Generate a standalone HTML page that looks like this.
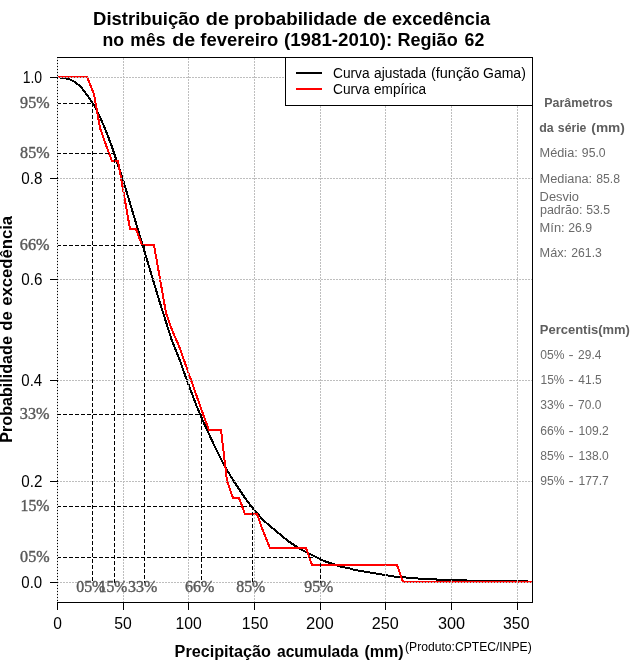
<!DOCTYPE html>
<html><head><meta charset="utf-8"><title>Distribuição de probabilidade de excedência</title>
<style>
html,body{margin:0;padding:0;background:#fff;}
body{width:640px;height:660px;overflow:hidden;font-family:"Liberation Sans",sans-serif;}
svg{display:block;will-change:transform;}
text{font-family:"Liberation Sans",sans-serif;}
.se{font-family:"Liberation Serif",serif;stroke:#595959;stroke-width:0.4px;}
.b{font-weight:bold;}
</style></head><body>
<svg width="640" height="660" viewBox="0 0 640 660">
<rect width="640" height="660" fill="#fff"/>

<g shape-rendering="crispEdges" fill="none" stroke-linejoin="miter">
<polyline points="57,77 63,78 69,79 75,82 81,87 87,95 94,105 100,117 106,131 112,147 118,165 124,183 130,203 136,223 142,243 148,263 154,283 160,303 166,322 172,341 179,358 185,375 191,391 197,407 203,421 209,434 215,447 221,459 227,470 233,480 239,489 245,498 251,506 257,513 263,520 270,526 276,531 282,536 288,541 294,545 300,549 306,552 312,555 318,558 324,561 330,563 336,565 342,567 348,568 355,570 361,571 367,572 373,573 379,574 385,575 391,576 397,577 403,577 409,578 415,578 421,579 433,579 440,580 464,580 470,581 524,581 532,582" stroke="#000" stroke-width="2"/>
<polyline points="57,77 87,77 94,94 100,128 106,145 112,161 118,161 124,195 130,229 136,229 142,245 154,245 160,279 166,313 172,330 179,346 185,363 191,380 197,397 203,414 209,430 221,430 227,481 233,498 239,498 245,514 257,514 263,531 270,548 306,548 312,565 397,565 403,582 532,582" stroke="#ff0000" stroke-width="2"/>
<line x1="123.5" y1="603" x2="123.5" y2="57" stroke="#BEBEBE" stroke-dasharray="2 1"/>
<line x1="188.5" y1="603" x2="188.5" y2="57" stroke="#BEBEBE" stroke-dasharray="2 1"/>
<line x1="254.5" y1="603" x2="254.5" y2="57" stroke="#BEBEBE" stroke-dasharray="2 1"/>
<line x1="320.5" y1="603" x2="320.5" y2="57" stroke="#BEBEBE" stroke-dasharray="2 1"/>
<line x1="385.5" y1="603" x2="385.5" y2="57" stroke="#BEBEBE" stroke-dasharray="2 1"/>
<line x1="451.5" y1="603" x2="451.5" y2="57" stroke="#BEBEBE" stroke-dasharray="2 1"/>
<line x1="517.5" y1="603" x2="517.5" y2="57" stroke="#BEBEBE" stroke-dasharray="2 1"/>
<line x1="57" y1="582.5" x2="532" y2="582.5" stroke="#BEBEBE" stroke-dasharray="2 1"/>
<line x1="57" y1="481.5" x2="532" y2="481.5" stroke="#BEBEBE" stroke-dasharray="2 1"/>
<line x1="57" y1="380.5" x2="532" y2="380.5" stroke="#BEBEBE" stroke-dasharray="2 1"/>
<line x1="57" y1="279.5" x2="532" y2="279.5" stroke="#BEBEBE" stroke-dasharray="2 1"/>
<line x1="57" y1="178.5" x2="532" y2="178.5" stroke="#BEBEBE" stroke-dasharray="2 1"/>
<line x1="57" y1="77.5" x2="532" y2="77.5" stroke="#BEBEBE" stroke-dasharray="2 1"/>
<line x1="57" y1="103.5" x2="92.5" y2="103.5" stroke="#000" stroke-dasharray="4 2"/>
<line x1="92.5" y1="103" x2="92.5" y2="583" stroke="#000" stroke-dasharray="4 2"/>
<line x1="57" y1="153.5" x2="114.5" y2="153.5" stroke="#000" stroke-dasharray="4 2"/>
<line x1="114.5" y1="153" x2="114.5" y2="583" stroke="#000" stroke-dasharray="4 2"/>
<line x1="57" y1="245.5" x2="144.5" y2="245.5" stroke="#000" stroke-dasharray="4 2"/>
<line x1="144.5" y1="245" x2="144.5" y2="583" stroke="#000" stroke-dasharray="4 2"/>
<line x1="57" y1="414.5" x2="201.5" y2="414.5" stroke="#000" stroke-dasharray="4 2"/>
<line x1="201.5" y1="414" x2="201.5" y2="583" stroke="#000" stroke-dasharray="4 2"/>
<line x1="57" y1="506.5" x2="252.5" y2="506.5" stroke="#000" stroke-dasharray="4 2"/>
<line x1="252.5" y1="506" x2="252.5" y2="583" stroke="#000" stroke-dasharray="4 2"/>
<line x1="57" y1="557.5" x2="320.5" y2="557.5" stroke="#000" stroke-dasharray="4 2"/>
<line x1="320.5" y1="557" x2="320.5" y2="583" stroke="#000" stroke-dasharray="4 2"/>
<line x1="57" y1="57.5" x2="533" y2="57.5" stroke="#000"/>
<line x1="57" y1="602.5" x2="533" y2="602.5" stroke="#000"/>
<line x1="532.5" y1="57" x2="532.5" y2="603" stroke="#000"/>
<line x1="57.5" y1="57" x2="57.5" y2="603" stroke="#000"/>
<line x1="57.5" y1="603" x2="57.5" y2="58" stroke="#dcdcdc" stroke-dasharray="2 1"/>
<line x1="57.5" y1="602" x2="57.5" y2="610" stroke="#000"/>
<line x1="123.5" y1="602" x2="123.5" y2="610" stroke="#000"/>
<line x1="188.5" y1="602" x2="188.5" y2="610" stroke="#000"/>
<line x1="254.5" y1="602" x2="254.5" y2="610" stroke="#000"/>
<line x1="320.5" y1="602" x2="320.5" y2="610" stroke="#000"/>
<line x1="385.5" y1="602" x2="385.5" y2="610" stroke="#000"/>
<line x1="451.5" y1="602" x2="451.5" y2="610" stroke="#000"/>
<line x1="517.5" y1="602" x2="517.5" y2="610" stroke="#000"/>
<line x1="50" y1="582.5" x2="58" y2="582.5" stroke="#000"/>
<line x1="50" y1="481.5" x2="58" y2="481.5" stroke="#000"/>
<line x1="50" y1="380.5" x2="58" y2="380.5" stroke="#000"/>
<line x1="50" y1="279.5" x2="58" y2="279.5" stroke="#000"/>
<line x1="50" y1="178.5" x2="58" y2="178.5" stroke="#000"/>
<line x1="50" y1="77.5" x2="58" y2="77.5" stroke="#000"/>
<rect x="285.5" y="57.5" width="247" height="48" fill="#fff" stroke="#000"/>
<line x1="296" y1="73" x2="322" y2="73" stroke="#000" stroke-width="2"/>
<line x1="296" y1="89" x2="322" y2="89" stroke="#ff0000" stroke-width="2"/>
</g>
<text class="b" x="93.12" y="24.5" font-size="18" textLength="106.68" lengthAdjust="spacingAndGlyphs">Distribuição</text>
<text class="b" x="205.77" y="24.5" font-size="18" textLength="23.20" lengthAdjust="spacingAndGlyphs">de</text>
<text class="b" x="234.00" y="24.5" font-size="18" textLength="123.14" lengthAdjust="spacingAndGlyphs">probabilidade</text>
<text class="b" x="363.16" y="24.5" font-size="18" textLength="23.41" lengthAdjust="spacingAndGlyphs">de</text>
<text class="b" x="391.99" y="24.5" font-size="18" textLength="98.08" lengthAdjust="spacingAndGlyphs">excedência</text>
<text class="b" x="102.52" y="45.6" font-size="18" textLength="21.62" lengthAdjust="spacingAndGlyphs">no</text>
<text class="b" x="130.28" y="45.6" font-size="18" textLength="35.18" lengthAdjust="spacingAndGlyphs">mês</text>
<text class="b" x="172.28" y="45.6" font-size="18" textLength="22.98" lengthAdjust="spacingAndGlyphs">de</text>
<text class="b" x="200.34" y="45.6" font-size="18" textLength="77.97" lengthAdjust="spacingAndGlyphs">fevereiro</text>
<text class="b" x="283.96" y="45.6" font-size="18" textLength="108.23" lengthAdjust="spacingAndGlyphs">(1981-2010):</text>
<text class="b" x="397.50" y="45.6" font-size="18" textLength="60.17" lengthAdjust="spacingAndGlyphs">Região</text>
<text class="b" x="464.56" y="45.6" font-size="18" textLength="19.71" lengthAdjust="spacingAndGlyphs">62</text>
<text class="b" x="174.59" y="656.8" font-size="16" textLength="96.38" lengthAdjust="spacingAndGlyphs">Precipitação</text>
<text class="b" x="277.01" y="656.8" font-size="16" textLength="81.43" lengthAdjust="spacingAndGlyphs">acumulada</text>
<text class="b" x="364.45" y="656.8" font-size="16" textLength="39.21" lengthAdjust="spacingAndGlyphs">(mm)</text>
<text x="405.04" y="651.2" font-size="12" textLength="126.64" lengthAdjust="spacingAndGlyphs">(Produto:CPTEC/INPE)</text>
<text class="b" transform="rotate(-90)" x="-442.68" y="12.2" font-size="17" textLength="106.52" lengthAdjust="spacingAndGlyphs">Probabilidade</text>
<text class="b" transform="rotate(-90)" x="-330.74" y="12.2" font-size="17" textLength="19.52" lengthAdjust="spacingAndGlyphs">de</text>
<text class="b" transform="rotate(-90)" x="-305.73" y="12.2" font-size="17" textLength="89.77" lengthAdjust="spacingAndGlyphs">excedência</text>
<text x="333.02" y="77.6" font-size="14" textLength="36.59" lengthAdjust="spacingAndGlyphs">Curva</text>
<text x="374.01" y="77.6" font-size="14" textLength="52.18" lengthAdjust="spacingAndGlyphs">ajustada</text>
<text x="430.97" y="77.6" font-size="14" textLength="48.25" lengthAdjust="spacingAndGlyphs">(função</text>
<text x="483.00" y="77.6" font-size="14" textLength="42.80" lengthAdjust="spacingAndGlyphs">Gama)</text>
<text x="333.02" y="93.8" font-size="14" textLength="36.59" lengthAdjust="spacingAndGlyphs">Curva</text>
<text x="374.01" y="93.8" font-size="14" textLength="52.18" lengthAdjust="spacingAndGlyphs">empírica</text>
<text class="b" x="544.32" y="106.8" font-size="12" fill="#5e5e5e" textLength="68.44" lengthAdjust="spacingAndGlyphs">Parâmetros</text>
<text class="b" x="539.29" y="131.8" font-size="12" fill="#5e5e5e" textLength="14.43" lengthAdjust="spacingAndGlyphs">da</text>
<text class="b" x="557.89" y="131.8" font-size="12" fill="#5e5e5e" textLength="28.55" lengthAdjust="spacingAndGlyphs">série</text>
<text class="b" x="591.33" y="131.8" font-size="12" fill="#5e5e5e" textLength="33.55" lengthAdjust="spacingAndGlyphs">(mm)</text>
<text x="539.64" y="156.7" font-size="12" fill="#6a6a6a" textLength="38.20" lengthAdjust="spacingAndGlyphs">Média:</text>
<text x="581.89" y="156.7" font-size="12" fill="#6a6a6a" textLength="23.77" lengthAdjust="spacingAndGlyphs">95.0</text>
<text x="539.64" y="182.6" font-size="12" fill="#6a6a6a" textLength="52.56" lengthAdjust="spacingAndGlyphs">Mediana:</text>
<text x="596.19" y="182.6" font-size="12" fill="#6a6a6a" textLength="23.83" lengthAdjust="spacingAndGlyphs">85.8</text>
<text x="539.63" y="200.6" font-size="12" fill="#6a6a6a" textLength="39.34" lengthAdjust="spacingAndGlyphs">Desvio</text>
<text x="539.92" y="214.3" font-size="12" fill="#6a6a6a" textLength="42.54" lengthAdjust="spacingAndGlyphs">padrão:</text>
<text x="586.19" y="214.3" font-size="12" fill="#6a6a6a" textLength="23.83" lengthAdjust="spacingAndGlyphs">53.5</text>
<text x="539.63" y="232.4" font-size="12" fill="#6a6a6a" textLength="25.05" lengthAdjust="spacingAndGlyphs">Mín:</text>
<text x="568.19" y="232.4" font-size="12" fill="#6a6a6a" textLength="23.83" lengthAdjust="spacingAndGlyphs">26.9</text>
<text x="539.64" y="257.4" font-size="12" fill="#6a6a6a" textLength="27.53" lengthAdjust="spacingAndGlyphs">Máx:</text>
<text x="571.29" y="257.4" font-size="12" fill="#6a6a6a" textLength="30.55" lengthAdjust="spacingAndGlyphs">261.3</text>
<text class="b" x="539.89" y="333.7" font-size="12" fill="#5e5e5e" textLength="89.98" lengthAdjust="spacingAndGlyphs">Percentis(mm)</text>
<text x="540.20" y="358.6" font-size="12" fill="#6a6a6a" textLength="24.24" lengthAdjust="spacingAndGlyphs">05%</text>
<text x="568.57" y="358.6" font-size="12" fill="#6a6a6a" textLength="5.07" lengthAdjust="spacingAndGlyphs">-</text>
<text x="578.10" y="358.6" font-size="12" fill="#6a6a6a" textLength="23.26" lengthAdjust="spacingAndGlyphs">29.4</text>
<text x="540.61" y="383.6" font-size="12" fill="#6a6a6a" textLength="23.82" lengthAdjust="spacingAndGlyphs">15%</text>
<text x="568.57" y="383.6" font-size="12" fill="#6a6a6a" textLength="5.07" lengthAdjust="spacingAndGlyphs">-</text>
<text x="578.35" y="383.6" font-size="12" fill="#6a6a6a" textLength="23.26" lengthAdjust="spacingAndGlyphs">41.5</text>
<text x="540.20" y="409.4" font-size="12" fill="#6a6a6a" textLength="24.24" lengthAdjust="spacingAndGlyphs">33%</text>
<text x="568.57" y="409.4" font-size="12" fill="#6a6a6a" textLength="5.07" lengthAdjust="spacingAndGlyphs">-</text>
<text x="578.10" y="409.4" font-size="12" fill="#6a6a6a" textLength="23.26" lengthAdjust="spacingAndGlyphs">70.0</text>
<text x="540.20" y="434.7" font-size="12" fill="#6a6a6a" textLength="24.24" lengthAdjust="spacingAndGlyphs">66%</text>
<text x="568.57" y="434.7" font-size="12" fill="#6a6a6a" textLength="5.07" lengthAdjust="spacingAndGlyphs">-</text>
<text x="578.49" y="434.7" font-size="12" fill="#6a6a6a" textLength="30.24" lengthAdjust="spacingAndGlyphs">109.2</text>
<text x="540.20" y="459.6" font-size="12" fill="#6a6a6a" textLength="24.24" lengthAdjust="spacingAndGlyphs">85%</text>
<text x="568.57" y="459.6" font-size="12" fill="#6a6a6a" textLength="5.07" lengthAdjust="spacingAndGlyphs">-</text>
<text x="578.49" y="459.6" font-size="12" fill="#6a6a6a" textLength="30.24" lengthAdjust="spacingAndGlyphs">138.0</text>
<text x="540.20" y="484.5" font-size="12" fill="#6a6a6a" textLength="24.24" lengthAdjust="spacingAndGlyphs">95%</text>
<text x="568.57" y="484.5" font-size="12" fill="#6a6a6a" textLength="5.07" lengthAdjust="spacingAndGlyphs">-</text>
<text x="578.49" y="484.5" font-size="12" fill="#6a6a6a" textLength="30.24" lengthAdjust="spacingAndGlyphs">177.7</text>
<text x="21.30" y="587.9" font-size="16" textLength="20.87" lengthAdjust="spacingAndGlyphs">0.0</text>
<text x="21.29" y="486.9" font-size="16" textLength="21.12" lengthAdjust="spacingAndGlyphs">0.2</text>
<text x="21.30" y="385.9" font-size="16" textLength="20.87" lengthAdjust="spacingAndGlyphs">0.4</text>
<text x="21.29" y="284.9" font-size="16" textLength="21.12" lengthAdjust="spacingAndGlyphs">0.6</text>
<text x="21.29" y="183.9" font-size="16" textLength="21.12" lengthAdjust="spacingAndGlyphs">0.8</text>
<text x="22.66" y="82.9" font-size="16" textLength="19.48" lengthAdjust="spacingAndGlyphs">1.0</text>
<text x="53.17" y="628.6" font-size="16" textLength="8.67" lengthAdjust="spacingAndGlyphs">0</text>
<text x="114.26" y="628.6" font-size="16" textLength="17.53" lengthAdjust="spacingAndGlyphs">50</text>
<text x="175.52" y="628.6" font-size="16" textLength="26.27" lengthAdjust="spacingAndGlyphs">100</text>
<text x="241.87" y="628.6" font-size="16" textLength="26.33" lengthAdjust="spacingAndGlyphs">150</text>
<text x="306.12" y="628.6" font-size="16" textLength="27.71" lengthAdjust="spacingAndGlyphs">200</text>
<text x="371.74" y="628.6" font-size="16" textLength="26.97" lengthAdjust="spacingAndGlyphs">250</text>
<text x="437.99" y="628.6" font-size="16" textLength="27.13" lengthAdjust="spacingAndGlyphs">300</text>
<text x="503.06" y="628.6" font-size="16" textLength="26.39" lengthAdjust="spacingAndGlyphs">350</text>
<text class="se" x="20.10" y="107.8" font-size="16" fill="#595959" textLength="29.48" lengthAdjust="spacingAndGlyphs">95%</text>
<text class="se" x="20.10" y="157.8" font-size="16" fill="#595959" textLength="29.48" lengthAdjust="spacingAndGlyphs">85%</text>
<text class="se" x="19.84" y="249.8" font-size="16" fill="#595959" textLength="29.75" lengthAdjust="spacingAndGlyphs">66%</text>
<text class="se" x="19.84" y="418.8" font-size="16" fill="#595959" textLength="29.75" lengthAdjust="spacingAndGlyphs">33%</text>
<text class="se" x="20.51" y="510.8" font-size="16" fill="#595959" textLength="29.06" lengthAdjust="spacingAndGlyphs">15%</text>
<text class="se" x="20.10" y="561.8" font-size="16" fill="#595959" textLength="29.48" lengthAdjust="spacingAndGlyphs">05%</text>
<text class="se" x="76.25" y="591.9" font-size="16" fill="#595959" textLength="29.07" lengthAdjust="spacingAndGlyphs">05%</text>
<text class="se" x="98.69" y="591.9" font-size="16" fill="#595959" textLength="28.63" lengthAdjust="spacingAndGlyphs">15%</text>
<text class="se" x="128.00" y="591.9" font-size="16" fill="#595959" textLength="29.33" lengthAdjust="spacingAndGlyphs">33%</text>
<text class="se" x="185.00" y="591.9" font-size="16" fill="#595959" textLength="29.33" lengthAdjust="spacingAndGlyphs">66%</text>
<text class="se" x="236.25" y="591.9" font-size="16" fill="#595959" textLength="29.07" lengthAdjust="spacingAndGlyphs">85%</text>
<text class="se" x="304.25" y="591.9" font-size="16" fill="#595959" textLength="29.07" lengthAdjust="spacingAndGlyphs">95%</text>
</svg></body></html>
